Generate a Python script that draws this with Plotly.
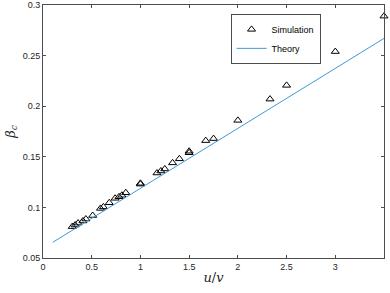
import plotly.graph_objects as go

sim_x = [0.3, 0.33, 0.36, 0.41, 0.44, 0.51, 0.59, 0.62, 0.68, 0.74, 0.78, 0.81, 0.85, 1.0, 1.0,
         1.17, 1.21, 1.25, 1.33, 1.40, 1.5, 1.5, 1.67, 1.75, 2.0, 2.33, 2.5, 3.0, 3.5]
sim_y = [0.081, 0.0826, 0.0845, 0.0866, 0.0885, 0.092, 0.099, 0.1005, 0.1046, 0.109, 0.1105, 0.112, 0.1145, 0.123, 0.1238,
         0.134, 0.136, 0.138, 0.144, 0.148, 0.154, 0.1555, 0.166, 0.168, 0.186, 0.207, 0.2206, 0.254, 0.289]

theory_x = [0.1, 0.5, 1.0, 1.5, 2.0, 2.5, 3.0, 3.5]
theory_y = [0.0655, 0.0892, 0.1189, 0.1485, 0.1782, 0.2078, 0.2375, 0.267]

x_ticks = [0, 0.5, 1, 1.5, 2, 2.5, 3, 3.5]
x_labels = ["0", "0.5", "1", "1.5", "2", "2.5", "3", "3.5"]
y_ticks = [0.05, 0.1, 0.15, 0.2, 0.25, 0.3]
y_labels = ["0.05", "0.1", "0.15", "0.2", "0.25", "0.3"]

fig = go.Figure()
fig.add_trace(go.Scatter(x=sim_x, y=sim_y, mode="markers", name="Simulation", cliponaxis=False,
                         marker=dict(symbol="triangle-up-open", size=7, color="black",
                                     line=dict(width=1, color="black"))))
fig.add_trace(go.Scatter(x=theory_x, y=theory_y, mode="lines", name="Theory",
                         line=dict(color="#3d9ad8", width=1)))

axis_common = dict(showgrid=False, zeroline=False, showline=True, linecolor="#4d4d4d",
                   linewidth=1, mirror="ticks", ticks="inside", ticklen=3, tickcolor="#4d4d4d",
                   automargin=False,
                   tickfont=dict(family="Liberation Sans, Arial", size=9, color="#262626"))

fig.update_xaxes(range=[0, 3.5], tickvals=x_ticks, ticktext=x_labels,
                 title=dict(text="<i>u</i>/<i>v</i>", standoff=2,
                            font=dict(family="DejaVu Serif, serif", size=13, color="#262626")),
                 **axis_common)
fig.update_yaxes(range=[0.05, 0.3], tickvals=y_ticks, ticktext=y_labels,
                 title=dict(text="<i>β<sub>c</sub></i>", standoff=4,
                            font=dict(family="DejaVu Serif, serif", size=13, color="#262626")),
                 **axis_common)

fig.update_layout(
    width=390, height=293,
    margin=dict(l=43, r=6, t=5, b=35),
    paper_bgcolor="white", plot_bgcolor="white",
    legend=dict(x=0.55, y=0.965, xanchor="left", yanchor="top",
                bgcolor="white", bordercolor="#4d4d4d", borderwidth=1,
                font=dict(family="Liberation Sans, Arial", size=9, color="black"),
                tracegroupgap=0, itemwidth=30),
    showlegend=True,
)

fig.write_html("out.html", config={"displayModeBar": False},
               post_script="document.body.style.margin='0';document.body.style.padding='0';")
